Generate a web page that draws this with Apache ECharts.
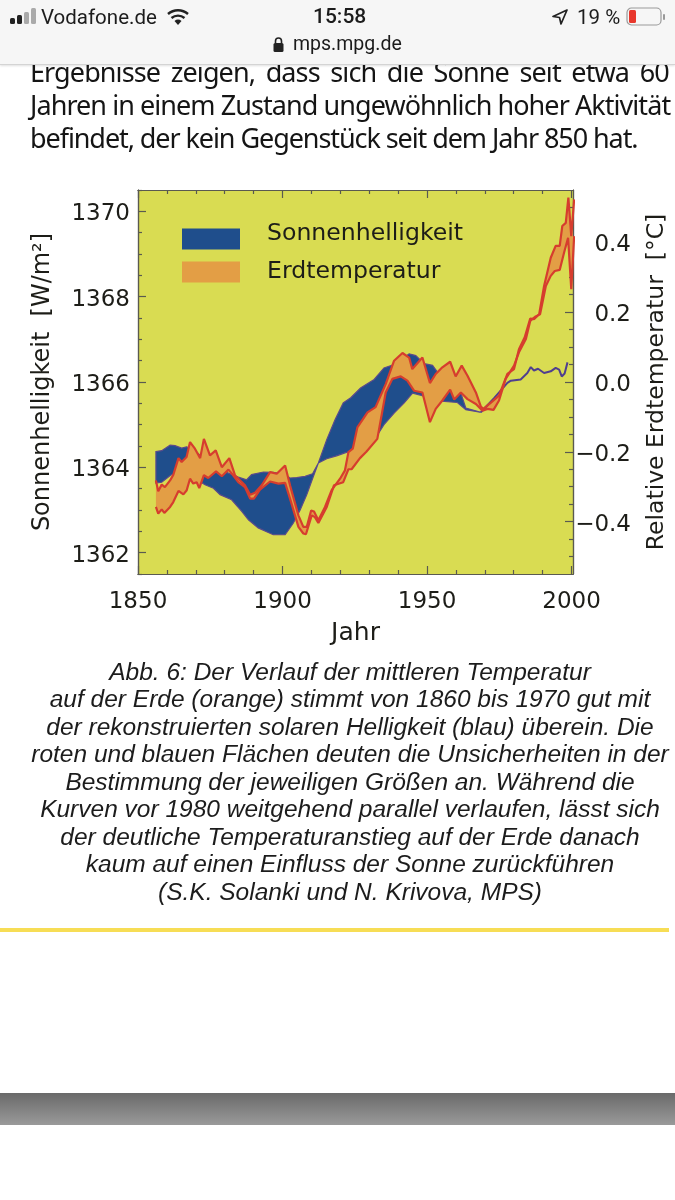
<!DOCTYPE html>
<html>
<head>
<meta charset="utf-8">
<title>Sonnenhelligkeit und Erdtemperatur</title>
<script src="https://cdn.jsdelivr.net/npm/echarts@6/dist/echarts.min.js"></script>
<style>
  html, body { margin: 0; padding: 0; background: #fff; }
  body { position: relative; width: 675px; height: 1200px; overflow: hidden; }
  #main { position: absolute; left: 0; top: 0; width: 675px; height: 1200px; }
  .abs { position: absolute; white-space: nowrap; }
  #bar { position: absolute; left: 0; top: 0; width: 675px; height: 64px; background: #f6f6f6; border-bottom: 1px solid #d4d4d4; box-shadow: 0 1px 2px rgba(0,0,0,.12); z-index: 5; }
  #bar .abs { font-family: Roboto, sans-serif; color: #1c1c1c; font-size: 20.5px; }
  .body { font-family: "Noto Sans", sans-serif; font-size: 27px; color: #151515; left: 30px; }
  .cap { font-family: "Liberation Sans", sans-serif; font-style: italic; font-size: 24.5px; color: #1c1c1c; left: 0; width: 700px; text-align: center; }
  #rule { position: absolute; left: 0; top: 928px; width: 669px; height: 4px; background: #f7dd55; }
  #foot { position: absolute; left: 0; top: 1093px; width: 675px; height: 32px; background: linear-gradient(#6a6a6a, #9a9a9a); }
</style>
</head>
<body>
<div id="main"></div>

<div class="abs body" style="top:53px;letter-spacing:-.9px;word-spacing:4.5px">Ergebnisse zeigen, dass sich die Sonne seit etwa 60</div>
<div class="abs body" style="top:86px;letter-spacing:-.94px">Jahren in einem Zustand ungewöhnlich hoher Aktivität</div>
<div class="abs body" style="top:119px;letter-spacing:-1.08px">befindet, der kein Gegenstück seit dem Jahr 850 hat.</div>

<div id="bar">
  <svg class="abs" style="left:9px;top:8px" width="30" height="18">
    <rect x="1" y="10" width="5" height="6" rx="1.5" fill="#222"/><rect x="8" y="7" width="5" height="9" rx="1.5" fill="#222"/>
    <rect x="15" y="4" width="5" height="12" rx="1.5" fill="#aaa"/><rect x="22" y="0" width="5" height="16" rx="1.5" fill="#aaa"/>
  </svg>
  <div class="abs" style="left:41px;top:5px">Vodafone.de</div>
  <svg class="abs" style="left:167px;top:8px" width="22" height="18" viewBox="0 0 22 18">
    <path d="M1 6a15 15 0 0 1 20 0M4.5 10a10 10 0 0 1 13 0" fill="none" stroke="#222" stroke-width="2.4"/>
    <path d="M7.5 13a5.5 5.5 0 0 1 7 0L11 17z" fill="#222"/>
  </svg>
  <div class="abs" style="left:313px;top:4px;font-weight:500;font-size:21px">15:58</div>
  <svg class="abs" style="left:552px;top:9px" width="16" height="16" viewBox="0 0 16 16">
    <path d="M15 1L1 7.5l6.5 1L9 15z" fill="none" stroke="#222" stroke-width="1.7" stroke-linejoin="round"/>
  </svg>
  <div class="abs" style="left:577px;top:5px">19 %</div>
  <svg class="abs" style="left:626px;top:7px" width="40" height="20" viewBox="0 0 40 20">
    <rect x="1" y="1" width="34" height="17" rx="4.5" fill="none" stroke="#999" stroke-width="1.2"/>
    <rect x="3" y="3" width="7" height="13" rx="1.5" fill="#e8372c"/>
    <rect x="37" y="7" width="2" height="6" rx="1" fill="#999"/>
  </svg>
  <svg class="abs" style="left:272px;top:36px" width="13" height="17" viewBox="0 0 13 17">
    <path d="M3.5 7V5a3 3 0 0 1 6 0v2" fill="none" stroke="#222" stroke-width="1.6"/>
    <rect x="1.5" y="7" width="10" height="9" rx="1.5" fill="#222"/>
  </svg>
  <div class="abs" style="left:293px;top:32px;font-size:19.5px">mps.mpg.de</div>
</div>

<div class="abs cap" style="top:658px">Abb. 6: Der Verlauf der mittleren Temperatur</div>
<div class="abs cap" style="top:685px">auf der Erde (orange) stimmt von 1860 bis 1970 gut mit</div>
<div class="abs cap" style="top:713px">der rekonstruierten solaren Helligkeit (blau) überein. Die</div>
<div class="abs cap" style="top:740px">roten und blauen Flächen deuten die Unsicherheiten in der</div>
<div class="abs cap" style="top:768px">Bestimmung der jeweiligen Größen an. Während die</div>
<div class="abs cap" style="top:795px">Kurven vor 1980 weitgehend parallel verlaufen, lässt sich</div>
<div class="abs cap" style="top:823px">der deutliche Temperaturanstieg auf der Erde danach</div>
<div class="abs cap" style="top:850px">kaum auf einen Einfluss der Sonne zurückführen</div>
<div class="abs cap" style="top:878px">(S.K. Solanki und N. Krivova, MPS)</div>
<div id="rule"></div>
<div id="foot"></div>

<script>
// Tick labels
const yearTicks = [1850, 1900, 1950, 2000];
const yearMinor = [1860, 1870, 1880, 1890, 1910, 1920, 1930, 1940, 1960, 1970, 1980, 1990];
const sunTicks = [1362, 1364, 1366, 1368, 1370];
const sunMinor = [1361.5, 1362.5, 1363, 1363.5, 1364.5, 1365, 1365.5, 1366.5, 1367, 1367.5, 1368.5, 1369, 1369.5, 1370.5];
const tempTicks = [-0.4, -0.2, 0, 0.2, 0.4];
const tempMinor = [-0.5, -0.45, -0.35, -0.3, -0.25, -0.15, -0.1, -0.05, 0.05, 0.1, 0.15, 0.25, 0.3, 0.35, 0.45, 0.5];

// Sonnenhelligkeit, Band oben/unten (W/m2)
const sunUpperYears = [1856.2, 1858.2, 1861.1, 1862.8, 1865.1, 1866.8, 1869.5, 1871.5, 1875, 1880, 1884.7, 1887.6, 1889.3, 1893.4, 1896.8, 1900.9, 1902.6, 1904.9, 1907.8, 1910.4, 1912.4, 1915.3, 1918.2, 1921, 1923.6, 1927, 1931.7, 1935.1, 1938.6, 1943.8, 1946.1, 1949, 1951.9, 1953.6, 1957, 1961.7, 1963.4, 1968.6];
const sunUpper = [1364.37, 1364.39, 1364.52, 1364.51, 1364.45, 1364.48, 1364.4, 1364.28, 1364.1, 1363.9, 1363.77, 1363.71, 1363.83, 1363.89, 1363.88, 1363.83, 1363.75, 1363.76, 1363.79, 1363.85, 1364.1, 1364.65, 1365.12, 1365.51, 1365.63, 1365.86, 1366.06, 1366.33, 1366.41, 1366.66, 1366.62, 1366.43, 1366.39, 1366.23, 1366, 1365.74, 1365.39, 1365.29];
const sunLowerYears = [1856.2, 1858.2, 1861.6, 1866.8, 1873.2, 1876.1, 1878.4, 1882.4, 1885.9, 1888.2, 1891.6, 1896.8, 1900.9, 1903.7, 1906.1, 1908.4, 1910.7, 1912.4, 1915.3, 1918.7, 1921.6, 1925, 1928, 1930, 1932.2, 1935.1, 1938.6, 1942.1, 1945, 1950, 1955, 1960.5, 1963.4, 1966.9, 1968.6];
const sunLower = [1363.63, 1363.65, 1363.83, 1363.85, 1363.59, 1363.51, 1363.36, 1363.24, 1362.97, 1362.77, 1362.58, 1362.42, 1362.42, 1362.69, 1363, 1363.36, 1363.79, 1364.1, 1364.2, 1364.27, 1364.34, 1364.4, 1364.45, 1364.55, 1364.69, 1365, 1365.27, 1365.51, 1365.74, 1365.65, 1365.55, 1365.52, 1365.35, 1365.31, 1365.29];
// Sonnenhelligkeit nach 1968, einzelne Linie
const sunLineYears = [1968.6, 1973.2, 1977.8, 1979, 1982.4, 1984.7, 1985.9, 1987, 1988.4, 1990.5, 1992.8, 1994.5, 1995.7, 1996.6, 1997.6, 1998.6];
const sunLine = [1365.29, 1365.62, 1365.98, 1366.03, 1366.06, 1366.21, 1366.35, 1366.27, 1366.31, 1366.21, 1366.25, 1366.33, 1366.29, 1366.13, 1366.2, 1366.46];

// Erdtemperatur, Band oben/unten (Grad C)
const tempUpperYears = [1856.2, 1857, 1858.2, 1859.3, 1861.1, 1862.2, 1864, 1865.1, 1866.8, 1868, 1869.7, 1871.5, 1872.8, 1874.9, 1876.9, 1879, 1881.6, 1883.6, 1887, 1888.8, 1890.5, 1892.8, 1895.7, 1898, 1900.9, 1902.6, 1905.5, 1907.2, 1908.4, 1909.9, 1910.9, 1912.4, 1914.7, 1917, 1919.9, 1921.6, 1922.8, 1924.3, 1925.9, 1929.4, 1932.2, 1935.7, 1938.6, 1941.5, 1943.8, 1944.9, 1948.4, 1951, 1953, 1955.3, 1958, 1959.9, 1962, 1964, 1966.9, 1968.6, 1969.5, 1972, 1974.9, 1977.8, 1980.1, 1981.8, 1983.8, 1985.7, 1987, 1988.8, 1990.5, 1992.8, 1994.5, 1995.9, 1996.8, 1998, 1998.9, 1999.9, 2000.9];
const tempUpper = [-0.282, -0.313, -0.294, -0.301, -0.282, -0.266, -0.218, -0.229, -0.215, -0.172, -0.191, -0.218, -0.163, -0.21, -0.196, -0.244, -0.218, -0.268, -0.296, -0.323, -0.317, -0.296, -0.258, -0.263, -0.239, -0.296, -0.382, -0.415, -0.415, -0.368, -0.371, -0.396, -0.358, -0.31, -0.277, -0.253, -0.201, -0.191, -0.13, -0.087, -0.072, -0.006, 0.061, 0.083, 0.07, 0.037, 0.07, -0.003, 0.023, 0.042, 0.058, 0.016, 0.047, 0.018, -0.03, -0.07, -0.077, -0.06, -0.039, 0.023, 0.037, 0.094, 0.128, 0.182, 0.18, 0.194, 0.275, 0.356, 0.39, 0.39, 0.447, 0.456, 0.528, 0.418, 0.523];
const tempLowerYears = [1856.2, 1857, 1858.2, 1859.1, 1861.1, 1862.2, 1864, 1865.7, 1866.8, 1868, 1869.1, 1870.3, 1871.2, 1872.8, 1874.3, 1877, 1879, 1881.3, 1883, 1884.7, 1887, 1888.8, 1890.1, 1892.2, 1895.7, 1898.6, 1900.9, 1902.6, 1905.5, 1907.2, 1908.1, 1910.1, 1911.2, 1912.4, 1915.3, 1917.8, 1921, 1922.8, 1923.9, 1926.8, 1929, 1932.8, 1935.7, 1938, 1940.9, 1943.2, 1945.5, 1948.4, 1951, 1953, 1955.3, 1958, 1959.4, 1961.7, 1964, 1966.9, 1969.2, 1970.9, 1973, 1974.9, 1977.2, 1980.1, 1981.8, 1984.2, 1985.7, 1987.6, 1989.1, 1991.1, 1992.8, 1994.2, 1995.9, 1997.4, 1998.8, 1999.9, 2000.9];
const tempLower = [-0.358, -0.377, -0.365, -0.375, -0.358, -0.344, -0.312, -0.322, -0.311, -0.277, -0.291, -0.287, -0.304, -0.267, -0.275, -0.256, -0.27, -0.251, -0.268, -0.287, -0.301, -0.334, -0.334, -0.308, -0.285, -0.291, -0.289, -0.334, -0.415, -0.434, -0.436, -0.382, -0.387, -0.404, -0.358, -0.296, -0.287, -0.25, -0.25, -0.218, -0.2, -0.163, -0.03, 0.009, 0.016, 0.004, -0.025, -0.03, -0.115, -0.077, -0.053, -0.022, -0.05, -0.03, -0.049, -0.063, -0.082, -0.077, -0.08, -0.053, 0.009, 0.047, 0.085, 0.123, 0.175, 0.188, 0.194, 0.275, 0.304, 0.318, 0.321, 0.37, 0.413, 0.266, 0.418];

const axisFont = 'DejaVu Sans';
const axisColor = '#5a5a50';
const textColor = '#1d1d18';

function zip(xs, ys) {
  return xs.map((x, i) => [x, ys[i]]);
}

// Flaeche zwischen oberer und unterer Kurve
function band(name, upper, lower, yAxisIndex, color, stroke) {
  const ring = upper.concat(lower.slice().reverse());
  return {
    type: 'custom',
    name: name,
    xAxisIndex: 0,
    yAxisIndex: yAxisIndex,
    clip: true,
    data: ring,
    encode: { x: 0, y: 1 },
    itemStyle: { color: color },
    renderItem: function (params, api) {
      if (params.dataIndex !== 0) return null;
      return {
        type: 'polygon',
        shape: { points: ring.map(p => api.coord(p)) },
        style: { fill: color, stroke: stroke, lineWidth: stroke ? 1.2 : 0 }
      };
    }
  };
}

function curve(data, yAxisIndex, color, width) {
  return {
    type: 'line',
    xAxisIndex: 0,
    yAxisIndex: yAxisIndex,
    data: data,
    showSymbol: false,
    lineStyle: { color: color, width: width },
    silent: true
  };
}

// Achse nur mit Strichen (oben, rechts, Nebenstriche)
function tickAxis(position, min, max, values, len) {
  return {
    type: 'value',
    position: position,
    min: min,
    max: max,
    axisLine: { show: true, onZero: false, lineStyle: { color: axisColor, width: 1.2 } },
    axisTick: { show: true, inside: true, length: len, customValues: values, lineStyle: { color: axisColor, width: 1.2 } },
    axisLabel: { show: false },
    splitLine: { show: false }
  };
}

// ein Legendeneintrag, Text gegen das Farbfeld nach oben versetzt
function legendItem(name, top, lift) {
  return {
    left: 177, top: top, orient: 'vertical',
    itemWidth: 58, itemHeight: 21,
    icon: 'rect',
    data: [name],
    formatter: n => '{t|' + n + '}',
    textStyle: {
      rich: { t: { fontFamily: axisFont, fontSize: 23.6, color: textColor, padding: [0, 0, lift, 22] } }
    }
  };
}

const xMin = 1850, xMax = 2000.5;
const sunMin = 1361.5, sunMax = 1370.5;
const tempMin = -0.55, tempMax = 0.55;

const xBottom = tickAxis('bottom', xMin, xMax, yearTicks, 8);
xBottom.axisLabel = {
  show: true, customValues: yearTicks, margin: 17,
  fontFamily: axisFont, fontSize: 23, color: textColor, formatter: v => String(v)
};
xBottom.name = 'Jahr';
xBottom.nameLocation = 'middle';
xBottom.nameGap = 47;
xBottom.nameTextStyle = { fontFamily: axisFont, fontSize: 25, color: textColor };

// Ziffern liegen im Original etwas unter der Strichmitte
const tickRich = { v: { fontFamily: axisFont, fontSize: 23, color: textColor, padding: [6, 0, 0, 0] } };

const ySun = tickAxis('left', sunMin, sunMax, sunTicks, 8);
ySun.axisLabel = {
  show: true, customValues: sunTicks, margin: 8, rich: tickRich,
  formatter: v => '{v|' + v + '}'
};
ySun.name = 'Sonnenhelligkeit  [W/m²]';
ySun.nameLocation = 'middle';
ySun.nameRotate = 90;
ySun.nameGap = 83;
ySun.nameTextStyle = { fontFamily: axisFont, fontSize: 24, color: textColor };

const yTemp = tickAxis('right', tempMin, tempMax, tempTicks, 8);
yTemp.axisLabel = {
  show: true, customValues: tempTicks, margin: 58, align: 'right', rich: tickRich,
  formatter: v => '{v|' + v.toFixed(1).replace('-', '\u2212') + '}'
};
yTemp.name = 'Relative Erdtemperatur  [°C]';
yTemp.nameLocation = 'middle';
yTemp.nameRotate = 90;
yTemp.nameGap = 72;
yTemp.nameTextStyle = { fontFamily: axisFont, fontSize: 23.5, color: textColor };

const chart = echarts.init(document.getElementById('main'), null, { renderer: 'canvas' });
chart.setOption({
  animation: false,
  grid: {
    left: 138, top: 190, width: 435, height: 384,
    outerBoundsMode: 'none',
    show: true, backgroundColor: '#d9dc52', borderWidth: 0
  },
  legend: [
    legendItem('Sonnenhelligkeit', 217, 10),
    legendItem('Erdtemperatur', 255, 0)
  ],
  xAxis: [
    xBottom,
    tickAxis('bottom', xMin, xMax, yearMinor, 4),
    tickAxis('top', xMin, xMax, yearTicks, 8),
    tickAxis('top', xMin, xMax, yearMinor, 4)
  ],
  yAxis: [
    ySun,
    yTemp,
    tickAxis('left', sunMin, sunMax, sunMinor, 4),
    tickAxis('right', tempMin, tempMax, tempMinor, 4)
  ],
  series: [
    band('Sonnenhelligkeit', zip(sunUpperYears, sunUpper), zip(sunLowerYears, sunLower), 0, '#1f4e8c', '#5a4a8c'),
    curve(zip(sunLineYears, sunLine), 0, '#4f3f8f', 2),
    band('Erdtemperatur', zip(tempUpperYears, tempUpper), zip(tempLowerYears, tempLower), 1, '#e39e45', null),
    curve(zip(tempUpperYears, tempUpper), 1, '#d63d2e', 2.2),
    curve(zip(tempLowerYears, tempLower), 1, '#d63d2e', 2.2)
  ]
});
</script>
</body>
</html>
